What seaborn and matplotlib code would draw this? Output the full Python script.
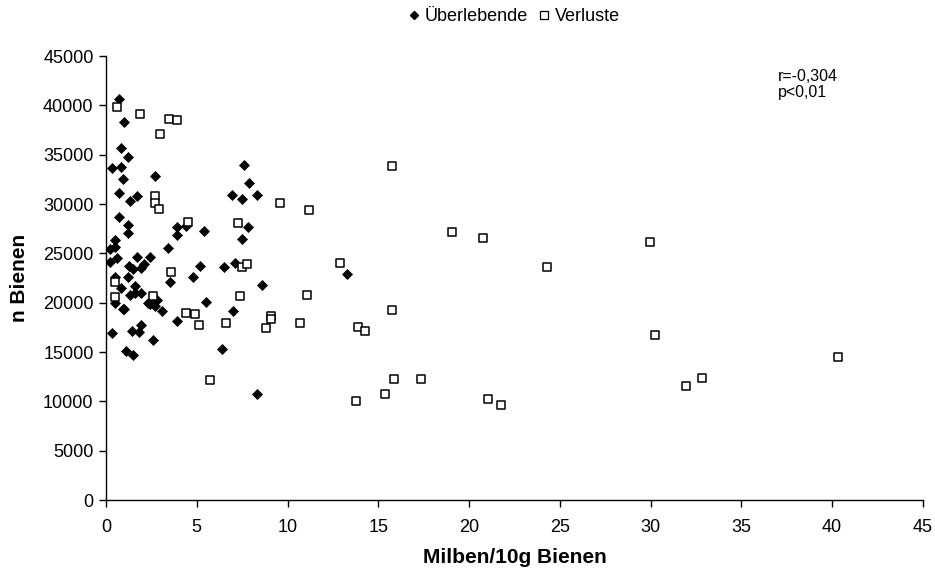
import matplotlib
matplotlib.use("Agg")
import matplotlib.pyplot as plt
import seaborn as sns
import pandas as pd
from matplotlib.lines import Line2D

surv_x = [0.73, 1.0, 0.81, 1.23, 0.31, 0.81, 0.92, 2.72, 7.6, 7.9, 0.73, 1.32, 1.73, 6.92, 7.5, 8.3,
          0.73, 1.23, 1.23, 3.91, 3.91, 4.4, 5.4, 7.8, 7.5, 0.51, 0.48, 0.22, 0.22, 0.62, 1.73, 2.42,
          1.28, 1.5, 1.91, 2.11, 3.4, 5.2, 6.5, 7.1, 0.51, 1.23, 4.8, 8.59, 0.81, 1.6, 1.32, 1.6,
          1.91, 0.51, 0.92, 1.0, 2.29, 2.42, 2.72, 2.83, 3.1, 3.5, 5.5, 3.91, 7.0, 0.31, 1.41, 1.82,
          1.91, 2.6, 1.12, 1.5, 6.4, 8.3, 13.29]
surv_y = [40640, 38340, 35640, 34730, 33650, 33720, 32530, 32870, 33920, 32100, 31110, 30300, 30840,
          30880, 30500, 30880, 28710, 27900, 27090, 27700, 26890, 27800, 27290, 27700, 26450, 26380,
          25670, 25400, 24150, 24560, 24600, 24600, 23720, 23380, 23480, 23920, 25510, 23750, 23610,
          23990, 22630, 22630, 22630, 21760, 21450, 21720, 20780, 21010, 21010, 19930, 19360, 19360,
          19930, 19830, 19690, 20270, 19190, 22130, 20100, 18110, 19190, 16930, 17130, 17000, 17740,
          16220, 15100, 14730, 15300, 10740, 22940]

loss_x = [0.6, 1.89, 3.49, 3.89, 2.99, 2.72, 2.72, 2.9, 9.58, 7.29, 4.5, 7.5, 7.78, 3.58, 0.51, 0.51,
          2.6, 7.4, 4.4, 4.9, 5.1, 6.6, 8.8, 9.09, 9.09, 10.68, 5.71, 15.77, 11.2, 19.07, 20.76, 12.89,
          11.09, 15.77, 13.88, 14.28, 15.86, 17.36, 15.38, 13.78, 21.07, 21.75, 29.96, 24.27, 30.25,
          40.33, 32.84, 31.95]
loss_y = [39860, 39090, 38650, 38540, 37060, 30840, 30130, 29520, 30070, 28040, 28140, 23650, 23920,
          23080, 22060, 20600, 20680, 20710, 18920, 18820, 17700, 17910, 17430, 18650, 18380, 17910,
          12130, 33880, 29390, 27130, 26550, 23990, 20740, 19290, 17530, 17090, 12290, 12230, 10740,
          10070, 10240, 9660, 26120, 23580, 16690, 14460, 12330, 11590]

labels = ["Überlebende", "Verluste"]
x_ticks = [0, 5, 10, 15, 20, 25, 30, 35, 40, 45]
y_ticks = list(range(0, 45001, 5000))

df_s = pd.DataFrame({"x": surv_x, "y": surv_y})
df_l = pd.DataFrame({"x": loss_x, "y": loss_y})

sns.set_theme(style="ticks")
plt.rcParams["font.family"] = ["Liberation Sans", "DejaVu Sans"]
plt.rcParams["text.color"] = "black"
plt.rcParams["axes.labelcolor"] = "black"
plt.rcParams["xtick.color"] = "black"
plt.rcParams["ytick.color"] = "black"

fig = plt.figure(figsize=(9.35, 5.75), dpi=100)
ax = fig.add_axes([0.1134, 0.1304, 0.8736, 0.7722])

sns.scatterplot(data=df_s, x="x", y="y", ax=ax, marker="D", s=26, color="black",
                edgecolor="black", linewidth=0.5, zorder=3)
sns.scatterplot(data=df_l, x="x", y="y", ax=ax, marker="s", s=40, color="white",
                edgecolor="black", linewidth=1.1, zorder=3)

ax.set_xlim(0, 45)
ax.set_ylim(0, 45000)
ax.set_xticks(x_ticks)
ax.set_yticks(y_ticks)
ax.set_xticklabels([str(t) for t in x_ticks], fontsize=13)
ax.set_yticklabels([str(t) for t in y_ticks], fontsize=13)
ax.tick_params(direction="out", length=5, width=1, colors="black")
ax.tick_params(axis="x", pad=9)
ax.tick_params(axis="y", pad=4)
for sp in ["top", "right"]:
    ax.spines[sp].set_visible(False)
for sp in ["left", "bottom"]:
    ax.spines[sp].set_linewidth(1)
    ax.spines[sp].set_color("black")

ax.set_xlabel("Milben/10g Bienen", fontsize=15, fontweight="bold", color="black")
ax.set_ylabel("n Bienen", fontsize=15, fontweight="bold", color="black")
ax.xaxis.set_label_coords(0.5, -0.108)
ax.yaxis.set_label_coords(-0.094, 0.5)

handles = [
    Line2D([], [], marker="D", linestyle="none", markersize=4.5, color="black"),
    Line2D([], [], marker="s", linestyle="none", markersize=6, markerfacecolor="white",
           markeredgecolor="black", markeredgewidth=0.9),
]
leg = fig.legend(handles, labels, loc="center", bbox_to_anchor=(0.549, 0.971), ncol=2,
                 frameon=False, fontsize=13, handletextpad=0.2, columnspacing=0.45,
                 handlelength=0.8)
for t in leg.get_texts():
    t.set_color("black")

fig.text(0.832, 0.853, "r=-0,304\np<0,01", fontsize=11.5, va="center", linespacing=1.1,
         color="black")

fig.savefig("out.png", dpi=100)
